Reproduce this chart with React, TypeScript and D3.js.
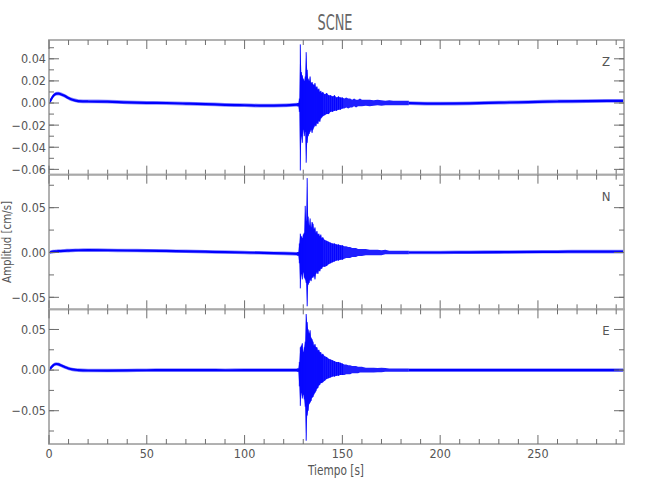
import * as d3 from 'd3'

// time axis
const X_MAX = 294
const X_MAJOR = [0, 50, 100, 150, 200, 250]
const X_MINOR_STEP = 10

// quiet stretches before / after the arrival (baseline drift of each trace)
const PRE_T = [0, 1, 2, 3, 4, 5, 6, 8, 10, 12, 15, 20, 30, 40, 50, 60, 70, 80, 90, 100, 110, 120, 127]
const POST_T = [184, 200, 215, 230, 245, 260, 275, 294]

const Z_PRE = [0, 0.003, 0.006, 0.0078, 0.0085, 0.0085, 0.008, 0.0065, 0.0045, 0.003, 0.0018, 0.0014, 0.0012, 0.0006, 0.0002, 0, -0.0005, -0.001, -0.0016, -0.002, -0.0024, -0.0022, -0.0015]
const Z_POST = [0, -0.0005, -0.0003, 0.0003, 0.0009, 0.0014, 0.0018, 0.002]
const N_PRE = [0, 0.0005, 0.001, 0.0012, 0.0014, 0.0015, 0.0016, 0.0019, 0.0021, 0.0023, 0.0025, 0.0026, 0.0025, 0.0022, 0.002, 0.0017, 0.0013, 0.0009, 0.0005, 0, -0.0005, -0.001, -0.0015]
const N_POST = [0, 0, 0.0002, 0.0004, 0.0006, 0.0008, 0.001, 0.001]
const E_PRE = [0, 0.003, 0.0055, 0.0072, 0.0075, 0.007, 0.006, 0.0038, 0.002, 0.0008, 0, -0.0005, -0.0006, -0.0004, -0.0002, 0, 0, 0, -0.0002, 0, 0, 0, 0]
const E_POST = [0, 0, 0, 0, 0, 0, 0, 0]

// event window: upper / lower peaks of the oscillation
const EV_T = [
  127, 127.5, 128, 128.5, 129, 129.5, 130, 130.5, 131, 131.5, 132, 132.5, 133, 133.5, 134, 134.5,
  135, 135.5, 136, 136.5, 137, 137.5, 138, 138.5, 139, 139.5, 140,
  141, 142, 143, 144, 145, 146, 147, 148, 149, 150, 151, 152, 153, 154, 155, 156, 157, 158, 159, 160,
  162, 164, 166, 168, 170, 172, 174, 176, 178, 180, 182, 184,
]
const Z_HI = [
  0, 0, 0.004, 0.053, 0.028, 0.025, 0.022, 0.02, 0.024, 0.046, 0.03, 0.022, 0.02, 0.024, 0.018, 0.019,
  0.017, 0.016, 0.018, 0.014, 0.015, 0.012, 0.013, 0.01, 0.011, 0.009, 0.01,
  0.008, 0.009, 0.007, 0.007, 0.006, 0.007, 0.005, 0.006, 0.005, 0.005, 0.004, 0.005, 0.004, 0.004, 0.003, 0.004, 0.003, 0.003, 0.004, 0.003,
  0.003, 0.003, 0.0025, 0.003, 0.0025, 0.002, 0.0025, 0.002, 0.002, 0.002, 0.002, 0.002,
]
const Z_LO = [
  -0.003, -0.003, -0.008, -0.061, -0.03, -0.036, -0.024, -0.03, -0.026, -0.054, -0.036, -0.03, -0.028, -0.026, -0.024, -0.027,
  -0.024, -0.022, -0.02, -0.021, -0.018, -0.019, -0.016, -0.017, -0.014, -0.013, -0.012,
  -0.011, -0.01, -0.01, -0.008, -0.008, -0.007, -0.007, -0.006, -0.006, -0.005, -0.005, -0.004, -0.005, -0.004, -0.004, -0.003, -0.004, -0.003, -0.003, -0.003,
  -0.0025, -0.003, -0.0025, -0.002, -0.0025, -0.002, -0.002, -0.002, -0.002, -0.002, -0.002, -0.002,
]
const N_HI = [
  0.0005, 0.0005, 0.01, 0.021, 0.018, 0.016, 0.02, 0.022, 0.052, 0.035, 0.083, 0.04, 0.03, 0.038, 0.028, 0.034,
  0.032, 0.026, 0.028, 0.022, 0.024, 0.02, 0.021, 0.018, 0.02, 0.016, 0.017,
  0.014, 0.013, 0.012, 0.011, 0.01, 0.01, 0.009, 0.009, 0.008, 0.008, 0.007, 0.007, 0.006, 0.006, 0.005, 0.005, 0.005, 0.004, 0.004, 0.004,
  0.004, 0.003, 0.003, 0.003, 0.0025, 0.003, 0.002, 0.002, 0.002, 0.002, 0.002, 0.002,
]
const N_LO = [
  -0.0035, -0.0035, -0.012, -0.04, -0.024, -0.03, -0.022, -0.028, -0.03, -0.034, -0.06, -0.036, -0.034, -0.03, -0.032, -0.028,
  -0.028, -0.026, -0.03, -0.024, -0.022, -0.024, -0.02, -0.021, -0.018, -0.018, -0.016,
  -0.016, -0.015, -0.013, -0.012, -0.011, -0.01, -0.009, -0.009, -0.008, -0.008, -0.007, -0.006, -0.006, -0.006, -0.005, -0.005, -0.005, -0.004, -0.004, -0.004,
  -0.003, -0.003, -0.003, -0.003, -0.003, -0.002, -0.002, -0.002, -0.002, -0.002, -0.002, -0.002,
]
const E_HI = [
  0.002, 0.002, 0.01, 0.028, 0.03, 0.033, 0.022, 0.028, 0.035, 0.069, 0.059, 0.05, 0.045, 0.049, 0.04, 0.038,
  0.035, 0.03, 0.032, 0.028, 0.028, 0.024, 0.025, 0.022, 0.022, 0.019, 0.02,
  0.017, 0.016, 0.014, 0.013, 0.012, 0.011, 0.01, 0.01, 0.009, 0.008, 0.007, 0.007, 0.006, 0.006, 0.005, 0.005, 0.005, 0.004, 0.004, 0.004,
  0.003, 0.003, 0.003, 0.0025, 0.003, 0.0025, 0.002, 0.002, 0.002, 0.002, 0.002, 0.002,
]
const E_LO = [
  -0.002, -0.002, -0.02, -0.044, -0.028, -0.035, -0.03, -0.036, -0.045, -0.087, -0.056, -0.05, -0.042, -0.04, -0.038, -0.034,
  -0.033, -0.03, -0.028, -0.026, -0.023, -0.022, -0.019, -0.018, -0.016, -0.016, -0.015,
  -0.013, -0.011, -0.01, -0.009, -0.008, -0.008, -0.007, -0.007, -0.006, -0.006, -0.006, -0.005, -0.005, -0.005, -0.004, -0.004, -0.004, -0.004, -0.003, -0.003,
  -0.003, -0.003, -0.003, -0.0025, -0.0025, -0.002, -0.002, -0.002, -0.002, -0.002, -0.002, -0.002,
]

const COMPONENTS = ['Z', 'N', 'E']
const Y_DOMAINS: [number, number][] = [
  [-0.0648, 0.057],
  [-0.0634, 0.0868],
  [-0.091, 0.0748],
]
const Y_MAJOR = [
  [-0.06, -0.04, -0.02, 0, 0.02, 0.04],
  [-0.05, 0, 0.05],
  [-0.05, 0, 0.05],
]
const Y_MINOR_STEP = [0.01, 0.025, 0.025]
const NOISE = [0.0017, 0.002, 0.0022]

const traces = [
  { pre: Z_PRE, post: Z_POST, hi: Z_HI, lo: Z_LO },
  { pre: N_PRE, post: N_POST, hi: N_HI, lo: N_LO },
  { pre: E_PRE, post: E_POST, hi: E_HI, lo: E_LO },
]

const W = 650
const H = 500
const margin = { left: 49, right: 26, top: 40 }
const panelH = 134.67
const FONT = "'Liberation Sans Narrow', 'DejaVu Sans Condensed', sans-serif"
const BLUE = '#0000ff'
const FRAME = '#a9a9a9'
const TICK = '#6e6e6e'
const TEXT = '#555'

const fmt = d3.format('.2f')

type EvPt = { t: number; hi: number; lo: number }

export default function App() {
  const innerW = W - margin.left - margin.right
  const x = d3.scaleLinear().domain([0, X_MAX]).range([0, innerW])
  const xMinor = d3.range(0, X_MAX + 0.1, X_MINOR_STEP)

  return (
    <svg
      width={W}
      height={H}
      style={{ position: 'absolute', left: 0, top: 0, background: '#fff' }}
      fontFamily={FONT}
    >
      <defs>
        {COMPONENTS.map((c) => (
          <clipPath id={`clip-${c}`} key={c}>
            <rect x={0} y={0} width={innerW} height={panelH} />
          </clipPath>
        ))}
      </defs>

      <text x={335} y={30} textAnchor="middle" fontSize={22} fill="#666" textLength={35} lengthAdjust="spacingAndGlyphs">
        SCNE
      </text>

      {COMPONENTS.map((comp, i) => {
        const top = margin.top + i * panelH
        const y = d3.scaleLinear().domain(Y_DOMAINS[i]).range([panelH, 0])
        const tr = traces[i]
        const noise = NOISE[i]
        const step = Y_MINOR_STEP[i]
        const [d0, d1] = Y_DOMAINS[i]
        const yMinor = d3.range(Math.ceil(d0 / step) * step, d1, step)

        const quiet = (ts: number[], vs: number[]) => {
          const pts = ts.map((t, k) => [t, vs[k]] as [number, number])
          const band = d3
            .area<[number, number]>()
            .x((d) => x(d[0]))
            .y0((d) => y(d[1] - noise))
            .y1((d) => y(d[1] + noise))
            .curve(d3.curveMonotoneX)(pts)
          const mid = d3
            .line<[number, number]>()
            .x((d) => x(d[0]))
            .y((d) => y(d[1]))
            .curve(d3.curveMonotoneX)(pts)
          return { band, mid }
        }
        const preQ = quiet(PRE_T, tr.pre)
        const postQ = quiet(POST_T, tr.post)

        const evPts: EvPt[] = EV_T.map((t, k) => ({ t, hi: tr.hi[k], lo: tr.lo[k] }))
        const evArea = d3
          .area<EvPt>()
          .x((d) => x(d.t))
          .y0((d) => y(d.lo))
          .y1((d) => y(d.hi))(evPts)
        // spikes: one vertical stroke per peak pair where the oscillation is strong
        const spikes = evPts.filter((d) => d.t <= 150)

        return (
          <g key={comp} transform={`translate(${margin.left},${top})`}>
            <g clipPath={`url(#clip-${comp})`}>
              {[preQ, postQ].map((q, k) => (
                <g key={k}>
                  <path d={q.band ?? ''} fill={BLUE} opacity={0.45} />
                  <path d={q.mid ?? ''} fill="none" stroke={BLUE} strokeWidth={2.2} />
                </g>
              ))}
              <path d={evArea ?? ''} fill={BLUE} opacity={0.88} />
              <g stroke={BLUE} strokeWidth={0.9}>
                {spikes.map((d) => (
                  <line key={d.t} x1={x(d.t)} x2={x(d.t)} y1={y(d.hi)} y2={y(d.lo)} />
                ))}
              </g>
            </g>

            {/* frame */}
            <rect x={0} y={0} width={innerW} height={panelH} fill="none" stroke={FRAME} strokeWidth={1.8} />

            {/* x ticks, top and bottom of each panel */}
            <g stroke={TICK} strokeWidth={1}>
              {xMinor.map((t) => {
                const len = X_MAJOR.includes(t) ? 9 : 5
                return (
                  <g key={t}>
                    <line x1={x(t)} x2={x(t)} y1={0} y2={len} />
                    <line x1={x(t)} x2={x(t)} y1={panelH} y2={panelH - len} />
                  </g>
                )
              })}
              {yMinor.map((v) => (
                <g key={v}>
                  <line x1={0} x2={5} y1={y(v)} y2={y(v)} />
                  <line x1={innerW} x2={innerW - 5} y1={y(v)} y2={y(v)} />
                </g>
              ))}
              {Y_MAJOR[i].map((v) => (
                <g key={v}>
                  <line x1={0} x2={10} y1={y(v)} y2={y(v)} />
                  <line x1={innerW} x2={innerW - 10} y1={y(v)} y2={y(v)} />
                </g>
              ))}
            </g>

            <g fontSize={12.5} fill={TEXT} textAnchor="end">
              {Y_MAJOR[i].map((v) => (
                <text key={v} x={-3} y={y(v)} dy="0.35em">
                  {fmt(v)}
                </text>
              ))}
            </g>

            <text x={innerW - 18} y={26} textAnchor="middle" fontSize={13} fill={TEXT}>
              {comp}
            </text>
          </g>
        )
      })}

      <g fontSize={12.5} fill={TEXT} textAnchor="middle">
        {X_MAJOR.map((t) => (
          <text key={t} x={margin.left + x(t)} y={458}>
            {t}
          </text>
        ))}
      </g>

      <text x={336} y={475} textAnchor="middle" fontSize={13.5} fill={TEXT} textLength={56} lengthAdjust="spacingAndGlyphs">
        Tiempo [s]
      </text>
      <text
        transform="translate(11,242) rotate(-90)"
        textAnchor="middle"
        fontSize={13}
        fill={TEXT}
        textLength={82}
        lengthAdjust="spacingAndGlyphs"
      >
        Amplitud [cm/s]
      </text>
    </svg>
  )
}
